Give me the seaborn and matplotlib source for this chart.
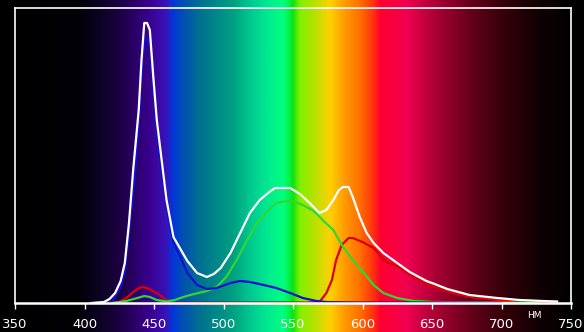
import numpy as np
import pandas as pd
import matplotlib
matplotlib.use("Agg")
import matplotlib.pyplot as plt
from matplotlib.colors import LinearSegmentedColormap
import seaborn as sns

# ---------------- data ----------------
white_nm = [405, 414, 418, 422, 426, 429, 432, 435, 439, 441, 443, 445, 447, 449.5, 452, 455.5, 459,
            464, 469, 474, 481, 488, 493, 498, 505, 512, 519, 526, 533, 537, 548, 555, 562,
            569, 574, 579, 583, 586, 590, 593, 598, 603, 608, 615, 625, 634, 646, 651, 661,
            677, 697, 713, 730, 740]
white_val = [0, 1, 4, 10, 22, 40, 80, 133, 193, 243, 280, 280, 273, 226, 183, 143, 103,
             66, 54, 42, 30, 26, 29, 35, 50, 70, 90, 103, 111, 115, 115, 109, 100,
             90, 93, 103, 113, 116, 116, 106, 86, 70, 60, 50, 40, 31, 22, 19.5, 14,
             8, 5, 3, 2, 1.5]

blue_nm = [412, 420, 426, 429, 432, 436, 439, 441, 443, 445, 447, 449.5, 452, 455.5, 459, 464,
           469, 474, 481, 488, 495, 505, 512, 519, 529, 538, 548, 557, 567, 574, 600, 650, 700]
blue_val = [0, 2, 16, 32, 70, 125, 180, 228, 262, 265, 258, 212, 168, 132, 96, 60,
            46, 30, 18, 14, 15, 20, 22, 21, 18, 15, 10, 5, 2, 1, 0.5, 0.5, 0]

green_nm = [420, 430, 438, 443, 447, 452, 459, 465, 469, 476, 482, 488, 495, 502, 509.5,
            517, 524, 531, 538, 546, 550, 557, 565, 572, 579, 586, 593, 601, 608, 615,
            625, 637, 651, 700, 725]
green_val = [0, 2, 5, 7, 6, 3, 1.5, 3, 5, 8, 10, 12, 16, 26, 43,
             63, 80, 91, 100, 102, 102, 98, 92, 82, 73, 56, 43, 30, 18, 10,
             5, 2, 1, 0.5, 0]

red_nm = [420, 425, 430, 435, 439, 442, 445, 449, 452, 456, 459, 465, 480, 560, 569, 574,
          578, 581, 585, 590, 593, 600, 608, 617, 625, 634, 646, 660, 677, 696, 713, 730, 740]
red_val = [0, 1, 5, 11, 15, 16, 15, 12, 10, 6, 3, 1, 0.5, 0.5, 1, 10,
           23, 43, 58, 65, 65, 61, 55, 41, 37, 28, 19.5, 12, 6, 3, 1.5, 0.5, 0]

tick_values = [350, 400, 450, 500, 550, 600, 650, 700, 750]
unit_label = "НМ"

# spectrum background stops (wavelength, colour)
spec_nm = [350, 395, 410, 428, 446, 458, 464, 471, 483, 507, 519, 531, 543, 548, 550,
           555, 567, 577, 586, 598, 608, 613, 632, 656, 680, 704, 728, 750]
spec_col = ["#000000", "#020006", "#0a0420", "#20004a", "#38008c", "#3c10b8", "#0038d8",
            "#0050b0", "#007090", "#00a080", "#00c890", "#00e890", "#00ff80", "#00f040",
            "#10e010", "#80f000", "#c0e000", "#ffd000", "#ffa000", "#ff7000", "#ff3010",
            "#ff0030", "#f00050", "#a00030", "#600018", "#300008", "#100003", "#000000"]

# ---------------- figure ----------------
W, H, DPI = 584, 332, 100
fig = plt.figure(figsize=(W / DPI, H / DPI), dpi=DPI, facecolor="black")

ax_l, ax_r, ax_t, ax_b = 15, 571, 8, 303
pos = [ax_l / W, (H - ax_b) / H, (ax_r - ax_l) / W, (ax_b - ax_t) / H]

# background spectrum over whole figure height within the x-range
bg = fig.add_axes([pos[0], 0, pos[2], 1])
cmap = LinearSegmentedColormap.from_list(
    "spec", [((n - 350) / 400, c) for n, c in zip(spec_nm, spec_col)], N=1024)
grad = np.linspace(0, 1, 1024)[None, :]
bg.imshow(grad, aspect="auto", cmap=cmap, extent=[350, 750, 0, 1])
bg.set_axis_off()

ax = fig.add_axes(pos)
ax.set_facecolor("none")

frames = []
for name, xs, ys in [("white", white_nm, white_val), ("blue", blue_nm, blue_val),
                     ("green", green_nm, green_val), ("red", red_nm, red_val)]:
    frames.append(pd.DataFrame({"nm": xs, "val": ys, "series": name}))
df = pd.concat(frames, ignore_index=True)

palette = {"white": "#ffffff", "blue": "#1010d0", "green": "#30d830", "red": "#dd0000"}
order = ["red", "green", "blue", "white"]
for s in order:
    sns.lineplot(data=df[df.series == s], x="nm", y="val", color=palette[s],
                 lw=1.6, sort=False, estimator=None, ax=ax, legend=False)

ax.set_xlim(350, 750)
ax.set_ylim(0, 295)
ax.set_xlabel("")
ax.set_ylabel("")
ax.set_yticks([])
ax.set_xticks(tick_values)
ax.set_xticklabels([str(t) for t in tick_values])
ax.tick_params(axis="x", direction="out", length=4, width=1, color="white",
               labelcolor="white", labelsize=9.5, pad=7)
for lab in ax.get_xticklabels():
    lab.set_family(["Liberation Sans Narrow", "DejaVu Sans"])
for side, sp in ax.spines.items():
    sp.set_color("white")
    sp.set_linewidth(1.2)
    sp.set_visible(True)
ax.spines["bottom"].set_linewidth(1.8)

fig.text(534 / W, 1 - 316 / H, unit_label, color="white", fontsize=6.5,
         ha="center", va="center", family=["Liberation Sans Narrow", "DejaVu Sans"])

fig.savefig("out.png", dpi=DPI, facecolor="black")
